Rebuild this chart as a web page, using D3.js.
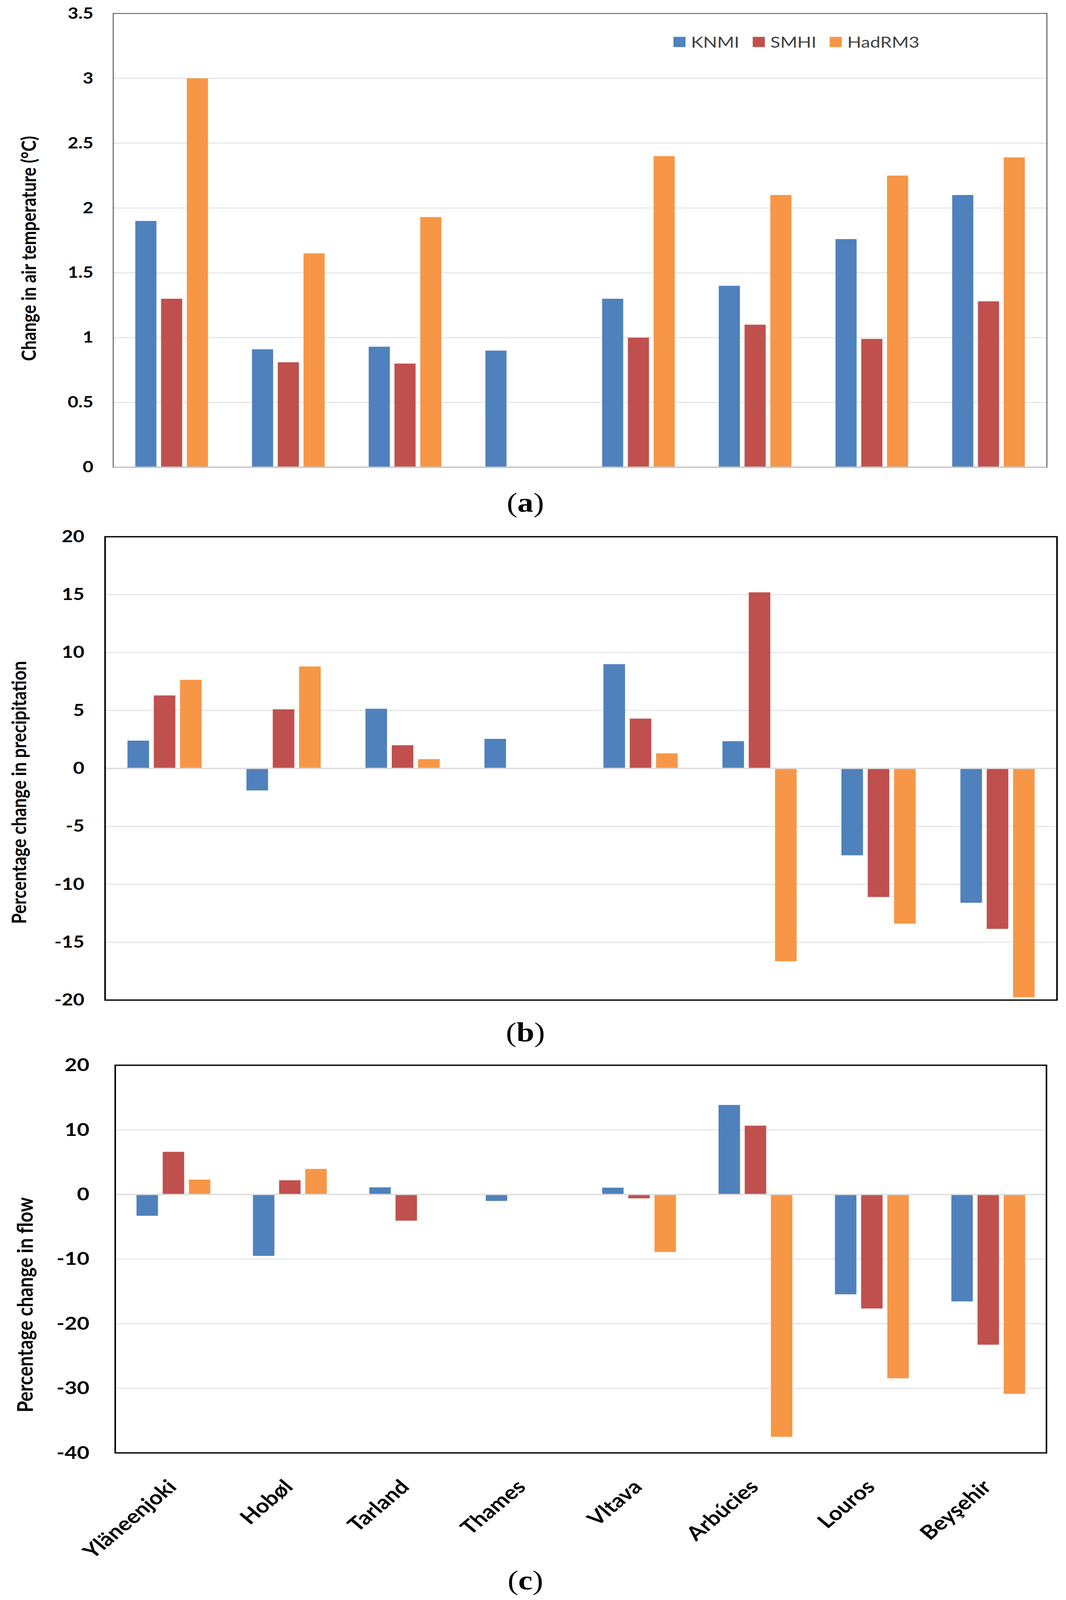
<!DOCTYPE html>
<html>
<head>
<meta charset="utf-8">
<script src="https://cdn.jsdelivr.net/npm/d3@7"></script>
<style>
  html, body { margin: 0; padding: 0; overflow: hidden; background: #fff; }
  svg { display: block; }
</style>
</head>
<body>
<script>
"use strict";

const width = 2729;
const height = 4862;

const sites = ["Yläneenjoki", "Hobøl", "Tarland", "Thames", "Vltava", "Arbúcies", "Louros", "Beyşehir"];
const models = ["KNMI", "SMHI", "HadRM3"];
const colors = ["#4f81bd", "#c0504d", "#f79646"];

// (a) change in air temperature
const tempKNMI = [1.90, 0.91, 0.93, 0.90, 1.30, 1.40, 1.76, 2.10];
const tempSMHI = [1.30, 0.81, 0.80, null, 1.00, 1.10, 0.99, 1.28];
const tempHad = [3.00, 1.65, 1.93, null, 2.40, 2.10, 2.25, 2.39];
const tempTicks = [0, 0.5, 1, 1.5, 2, 2.5, 3, 3.5];

// (b) percentage change in precipitation
const precKNMI = [2.4, -1.9, 5.15, 2.55, 9.0, 2.35, -7.5, -11.6];
const precSMHI = [6.3, 5.1, 2.0, null, 4.3, 15.2, -11.1, -13.85];
const precHad = [7.65, 8.8, 0.8, null, 1.3, -16.65, -13.4, -19.75];
const precTicks = [-20, -15, -10, -5, 0, 5, 10, 15, 20];

// (c) percentage change in flow
const flowKNMI = [-3.3, -9.5, 1.1, -1.0, 1.05, 13.85, -15.45, -16.55];
const flowSMHI = [6.6, 2.2, -4.05, null, -0.6, 10.65, -17.65, -23.25];
const flowHad = [2.3, 3.95, null, null, -8.9, -37.5, -28.45, -30.85];
const flowTicks = [-40, -30, -20, -10, 0, 10, 20];

// the window can be shorter than asked, so stretch the drawing to fit it
const vw = window.innerWidth || width;
const vh = window.innerHeight || height;

const svg = d3
  .select("body")
  .append("svg")
  .attr("width", vw)
  .attr("height", vh)
  .attr("viewBox", `0 0 ${width} ${height}`)
  .attr("preserveAspectRatio", "none");

svg.append("rect").attr("width", width).attr("height", height).attr("fill", "#ffffff");

const font = "Lato, 'Open Sans', sans-serif";

function panel(opt) {
  const x0 = d3.scaleBand().domain(sites).range([opt.left, opt.right]);
  const x1 = d3
    .scaleBand()
    .domain(models)
    .range([-opt.cluster / 2, opt.cluster / 2])
    .paddingInner(opt.gap);
  const y = d3.scaleLinear().domain(opt.domain).range([opt.bottom, opt.top]);

  const g = svg.append("g");

  // gridlines
  g.append("g")
    .selectAll("line")
    .data(opt.ticks.filter((t) => t !== opt.domain[0] && t !== opt.domain[1]))
    .enter()
    .append("line")
    .attr("x1", opt.left)
    .attr("x2", opt.right)
    .attr("y1", (d) => y(d))
    .attr("y2", (d) => y(d))
    .attr("stroke", "#e3e3e3")
    .attr("stroke-width", 3);

  // bars
  const rows = [];
  opt.series.forEach((vals, si) => {
    vals.forEach((v, i) => {
      if (v !== null) rows.push({ site: sites[i], model: models[si], v: v, c: colors[si] });
    });
  });
  g.append("g")
    .selectAll("rect")
    .data(rows)
    .enter()
    .append("rect")
    .attr("x", (d) => x0(d.site) + x0.bandwidth() / 2 + x1(d.model))
    .attr("width", x1.bandwidth())
    .attr("y", (d) => Math.min(y(d.v), y(0)))
    .attr("height", (d) => Math.abs(y(d.v) - y(0)))
    .attr("fill", (d) => d.c);

  // zero line
  g.append("line")
    .attr("x1", opt.left)
    .attr("x2", opt.right)
    .attr("y1", y(0))
    .attr("y2", y(0))
    .attr("stroke", opt.zeroColor)
    .attr("stroke-width", 4);

  // frame
  g.append("rect")
    .attr("x", opt.left)
    .attr("y", opt.top)
    .attr("width", opt.right - opt.left)
    .attr("height", opt.bottom - opt.top)
    .attr("fill", "none")
    .attr("stroke", opt.frame)
    .attr("stroke-width", opt.frameWidth);
  if (opt.domain[0] === 0) {
    g.append("line")
      .attr("x1", opt.left)
      .attr("x2", opt.right)
      .attr("y1", opt.bottom)
      .attr("y2", opt.bottom)
      .attr("stroke", opt.zeroColor)
      .attr("stroke-width", 4);
  }

  // y axis labels (plain hyphen for negatives, like the original)
  const axis = d3
    .axisLeft(y)
    .tickValues(opt.ticks)
    .tickSize(0)
    .tickPadding(opt.tickPad)
    .tickFormat((d) => String(d));
  const ag = g.append("g").attr("transform", `translate(${opt.left},0)`).call(axis);
  ag.select(".domain").remove();
  ag.selectAll("text")
    .attr("font-family", font)
    .attr("font-weight", "bold")
    .attr("font-size", opt.tickSize)
    .attr("fill", "#000");

  // y title
  g.append("text")
    .attr("transform", `translate(${opt.titleX},${opt.titleY}) rotate(-90)`)
    .attr("text-anchor", "middle")
    .attr("dominant-baseline", "central")
    .attr("font-family", font)
    .attr("font-weight", "bold")
    .attr("font-size", opt.titleSize)
    .attr("fill", "#000")
    .text(opt.title);

  // panel letter
  const lt = svg
    .append("text")
    .attr("x", 1345)
    .attr("y", opt.letterY)
    .attr("text-anchor", "middle")
    .attr("font-family", "'Liberation Serif', 'DejaVu Serif', serif")
    .attr("font-size", 82)
    .attr("fill", "#000");
  lt.append("tspan").text("(");
  lt.append("tspan").attr("font-weight", "bold").text(opt.letter);
  lt.append("tspan").text(")");

  return { x0: x0, y: y };
}

panel({
  left: 290, right: 2680, top: 41, bottom: 1420,
  domain: [0, 3.5], ticks: tempTicks,
  series: [tempKNMI, tempSMHI, tempHad],
  cluster: 186, gap: 0.18,
  frame: "#6e6e6e", frameWidth: 3, zeroColor: "#c8c8c8",
  tickSize: 47, tickPad: 51,
  title: "Change in air temperature (°C)", titleX: 72, titleY: 755, titleSize: 51,
  letter: "a", letterY: 1555
});

panel({
  left: 269, right: 2706, top: 1631, bottom: 3039,
  domain: [-20, 20], ticks: precTicks,
  series: [precKNMI, precSMHI, precHad],
  cluster: 190, gap: 0.18,
  frame: "#000", frameWidth: 4, zeroColor: "#dcdcdc",
  tickSize: 50, tickPad: 53,
  title: "Percentage change in precipitation", titleX: 47, titleY: 2408, titleSize: 52,
  letter: "b", letterY: 3165
});

const pc = panel({
  left: 295, right: 2679, top: 3237, bottom: 4415,
  domain: [-40, 20], ticks: flowTicks,
  series: [flowKNMI, flowSMHI, flowHad],
  cluster: 189, gap: 0.18,
  frame: "#000", frameWidth: 4, zeroColor: "#dcdcdc",
  tickSize: 55, tickPad: 66,
  title: "Percentage change in flow", titleX: 62, titleY: 3965, titleSize: 56,
  letter: "c", letterY: 4830
});

// category labels under (c), slanted at 45 degrees
svg
  .append("g")
  .selectAll("text")
  .data(sites)
  .enter()
  .append("text")
  .attr("transform", (d) => `translate(${pc.x0(d) + pc.x0.bandwidth() / 2 + 11},4522) rotate(-45)`)
  .attr("text-anchor", "end")
  .attr("font-family", font)
  .attr("font-weight", "bold")
  .attr("font-size", 59)
  .attr("fill", "#000")
  .text((d) => d);

// legend
const legendX = [1724, 1927, 2124];
const lg = svg.append("g");
models.forEach((m, i) => {
  lg.append("rect")
    .attr("x", legendX[i])
    .attr("y", 112)
    .attr("width", 31)
    .attr("height", 31)
    .attr("fill", colors[i]);
  lg.append("text")
    .attr("x", legendX[i] + 45)
    .attr("y", 127)
    .attr("dominant-baseline", "central")
    .attr("font-family", font)
    .attr("font-size", 47)
    .attr("fill", "#404040")
    .text(m);
});
</script>
</body>
</html>
